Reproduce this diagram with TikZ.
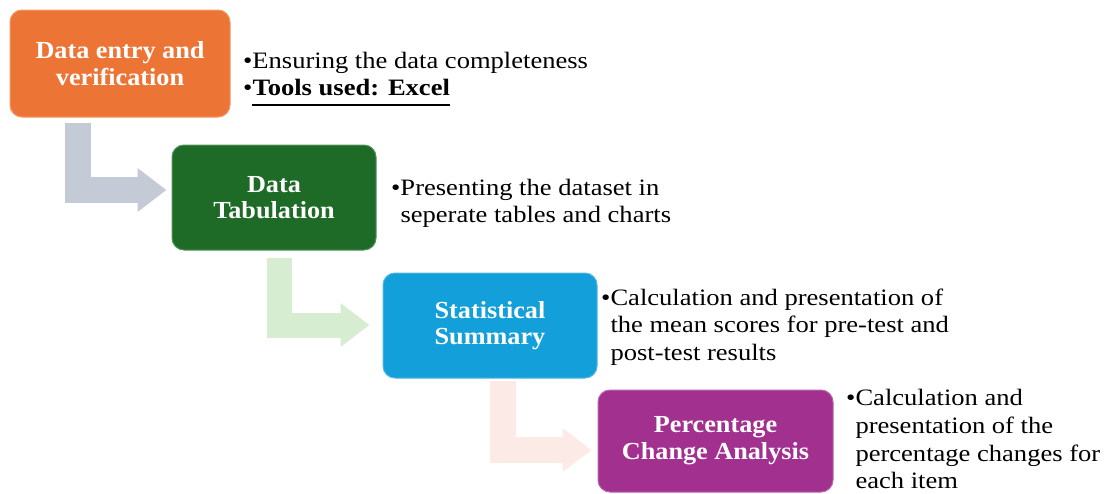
\documentclass[tikz,border=0pt]{standalone}
\usepackage{fontspec}
\setmainfont{Liberation Serif}
\newfontfamily\notefont[FakeStretch=1.13]{Liberation Serif}
\newfontfamily\boxfont[FakeStretch=1.07]{Liberation Serif}
\usetikzlibrary{arrows.meta,calc}
\definecolor{cOrange}{HTML}{EC7536}
\definecolor{cGreen}{HTML}{1D6B27}
\definecolor{cBlue}{HTML}{139FD9}
\definecolor{cPurple}{HTML}{A1308F}
\definecolor{aGray}{HTML}{C5CBD6}
\definecolor{aGreen}{HTML}{D6EDD2}
\definecolor{aPink}{HTML}{FCEAE6}
\newcommand\ulx[1]{\setbox0\hbox{#1}\rlap{\rule[-11pt]{\wd0}{2pt}}\box0}
\newcommand\bul{•\hspace{2.5pt}}
\tikzset{
  stepbox/.style={rounded corners=12pt, text=white, align=center, inner sep=0pt,
    font=\boxfont\fontsize{24.5}{26.7}\selectfont\bfseries},
  bulletnote/.style={anchor=base west, inner sep=0pt, font=\notefont\fontsize{23.5}{27.8}\selectfont},
  bend/.style={line width=#1, -{Triangle[length=29pt,width=42pt]}, line join=miter}
}
\begin{document}
\begin{tikzpicture}[x=1pt,y=-1pt]
\useasboundingbox (0,0) rectangle (1114,493);
% boxes
\node[stepbox, fill=cOrange, draw=cOrange!75!white, line width=1pt, minimum width=220pt, minimum height=107pt] (b1) at (120,63.5) {Data entry and\\verification};
\node[stepbox, fill=cGreen, draw=cGreen!75!white, line width=1pt, minimum width=204pt, minimum height=105pt] (b2) at (274,197.5) {Data\\Tabulation};
\node[stepbox, fill=cBlue, draw=cBlue!75!white, line width=1pt, minimum width=214pt, minimum height=105pt] (b3) at (490,325.5) {Statistical\\Summary};
\node[stepbox, fill=cPurple, draw=cPurple!75!white, line width=1pt, minimum width=235pt, minimum height=102pt] (b4) at (715.5,441) {Percentage\\Change Analysis};
% bent arrows
\coordinate (a1s) at ($(b1.south west)+(68.5,5)$);
\coordinate (a1e) at ($(b2.west)+(-5,-7.5)$);
\draw[bend=26pt, aGray] (a1s) |- (a1e);
\coordinate (a2s) at ($(b2.south west)+(108,7)$);
\coordinate (a2e) at ($(b3.west)+(-13,-0.5)$);
\draw[bend=25pt, aGreen] (a2s) |- (a2e);
\coordinate (a3s) at ($(b3.south west)+(120.5,2)$);
\coordinate (a3e) at ($(b4.west)+(-6,9)$);
\draw[bend=26pt, aPink] (a3s) |- (a3e);
% notes
\node[bulletnote] (n1) at (243,68.3) {\begin{tabular}[t]{@{}l@{}l@{}}\bul&Ensuring the data completeness\\[-1pt]\bul&\textbf{\ulx{Tools used: Excel}}\end{tabular}};
\node[bulletnote] (n2) at (391,195) {\begin{tabular}[t]{@{}l@{}l@{}}\bul&Presenting the dataset in\\&seperate tables and charts\end{tabular}};
\node[bulletnote] (n3) at (601,305) {\begin{tabular}[t]{@{}l@{}l@{}}\bul&Calculation and presentation of\\&the mean scores for pre-test and\\&post-test results\end{tabular}};
\node[bulletnote] (n4) at (846,405.5) {\begin{tabular}[t]{@{}l@{}l@{}}\bul&Calculation and\\&presentation of the\\&percentage changes for\\&each item\end{tabular}};
\end{tikzpicture}
\end{document}
